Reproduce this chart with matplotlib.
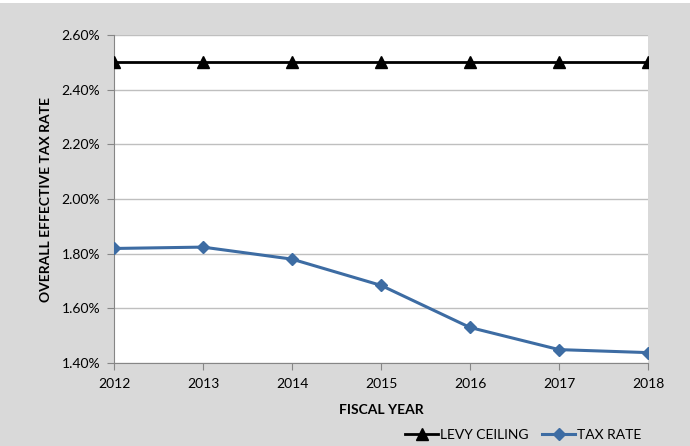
import matplotlib.pyplot as plt
import matplotlib.patches as mpatches
import matplotlib.ticker as mticker

years = ['2012', '2013', '2014', '2015', '2016', '2017', '2018']
levy_ceiling = [2.50, 2.50, 2.50, 2.50, 2.50, 2.50, 2.50]
tax_rate = [1.819, 1.824, 1.780, 1.684, 1.530, 1.449, 1.438]
y_ticks = [1.40, 1.60, 1.80, 2.00, 2.20, 2.40, 2.60]

plt.rcParams['font.family'] = ['Lato', 'DejaVu Sans']

fig = plt.figure(figsize=(6.9, 4.46), dpi=100)
fig.patch.set_facecolor('#d9d9d9')
# thin white strip at the very top (cut-off page above the chart)
fig.patches.append(mpatches.Rectangle((0, 1 - 3 / 446), 1, 3 / 446, transform=fig.transFigure,
                                      facecolor='white', edgecolor='none'))

ax = fig.add_axes([114 / 690, 1 - 363 / 446, 534 / 690, 328 / 446])
ax.set_facecolor('white')

x = list(range(len(years)))
ax.plot(x, levy_ceiling, color='black', lw=2, marker='^', ms=8, label='LEVY CEILING', zorder=3)
ax.plot(x, tax_rate, color='#3d6ca3', lw=2.2, marker='D', ms=6.5, label='TAX RATE', zorder=3)

ax.set_xlim(0, len(years) - 1)
ax.set_ylim(1.40, 2.60)
ax.set_xticks(x)
ax.set_xticklabels(years, fontsize=10)
ax.set_yticks(y_ticks)
ax.yaxis.set_major_formatter(mticker.FuncFormatter(lambda v, p: '%.2f%%' % v))
ax.tick_params(axis='y', labelsize=10, length=5, color='#868686', pad=5)
ax.tick_params(axis='x', length=5, color='#868686', pad=6)
ax.grid(axis='y', color='#bfbfbf', lw=1)
ax.set_axisbelow(True)
for s in ['top', 'right']:
    ax.spines[s].set_visible(False)
for s in ['left', 'bottom']:
    ax.spines[s].set_color('#868686')

ax.set_xlabel('FISCAL YEAR', fontsize=10, fontweight='bold', labelpad=10)
ax.set_ylabel('OVERALL EFFECTIVE TAX RATE', fontsize=10, fontweight='bold', labelpad=7)

fig.legend(loc='center', bbox_to_anchor=(523 / 690, 1 - 435 / 446), ncol=2, frameon=False,
           fontsize=10, handlelength=2.4, columnspacing=1.0, handletextpad=0.1)

fig.savefig('out.png', dpi=100, facecolor=fig.get_facecolor())
